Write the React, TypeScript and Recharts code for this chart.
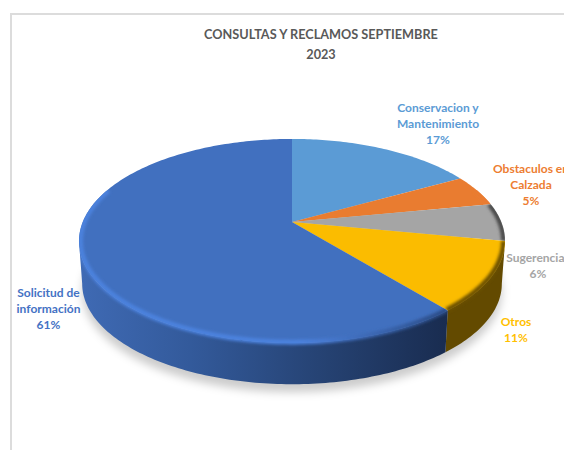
import { PieChart, Pie } from 'recharts';

const categories = ['Conservacion y Mantenimiento', 'Obstaculos en Calzada', 'Sugerencias', 'Otros', 'Solicitud de información'];
const shares = [17, 5, 6, 11, 61];
const topColors = ['#5B9BD5', '#E97C30', '#A5A5A5', '#FBBC00', '#4170BF'];
const labelColors = ['#5B9BD5', '#ED7D31', '#A5A5A5', '#FFC000', '#4472C4'];
const wallColors = ['#35607f', '#8a4a1c', '#5e5e5e', '#634A00', 'url(#wallBlue)'];
const rimColors = ['#5B9BD5', '#E97C30', '#4a4a4a', '#6b5000', 'url(#rimBlue)'];
const labelLines = [['Conservacion y', 'Mantenimiento'], ['Obstaculos en', 'Calzada'], ['Sugerencias'], ['Otros'], ['Solicitud de', 'información']];
const titleLines = ['CONSULTAS Y RECLAMOS SEPTIEMBRE', '2023'];

const table = categories.map((name, idx) => ({ name, idx, value: shares[idx], fill: topColors[idx] }));
const shadowTable = [{ name: 'sombra', value: 1 }];

// chart geometry, the disc is tilted so the near edge is drawn larger
const WIDTH = 564;
const HEIGHT = 450;
const CX = 292;
const CY = 222;
const RADIUS = 209.3;
const SQUASH = 98.5;
const TILT = 0.186;
const DEPTH = 43;
const BOTTOM_SCALE = 0.985;
const FONT = 'Lato, "Open Sans", sans-serif';

const labelAnchors = [
  { x: 438, y: 112 },
  { x: 531, y: 173 },
  { x: 538, y: 262 },
  { x: 516, y: 326 },
  { x: 48.5, y: 297 },
];

// tangent points of the disc, the wall only shows between them
const WALL_FROM = -10.7;
const WALL_TO = -169.3;
const RIM_FROM = 20;
const RIM_TO = -200;

function project(angle: number, scale = 1, shift = 0) {
  const rad = (angle * Math.PI) / 180;
  const u = Math.cos(rad);
  const v = -Math.sin(rad);
  const w = 1 / (1 - TILT * v);
  return [CX + RADIUS * u * w * scale, CY + SQUASH * v * w * scale + shift];
}

function arcPoints(from: number, to: number, scale = 1, shift = 0) {
  const steps = Math.max(2, Math.ceil(Math.abs(to - from)));
  const pts = [];
  for (let i = 0; i <= steps; i++) {
    pts.push(project(from + ((to - from) * i) / steps, scale, shift));
  }
  return pts;
}

function toPath(pts: number[][]) {
  return pts.map((p, i) => `${i === 0 ? 'M' : 'L'}${p[0].toFixed(2)},${p[1].toFixed(2)}`).join(' ');
}

function wallPath(start: number, end: number) {
  const from = Math.min(start, WALL_FROM);
  const to = Math.max(end, WALL_TO);
  if (from <= to) return '';
  return toPath([...arcPoints(from, to), ...arcPoints(to, from, BOTTOM_SCALE, DEPTH)]) + ' Z';
}

function sectorPath(start: number, end: number) {
  return `M${CX},${CY} ` + toPath(arcPoints(start, end)).replace('M', 'L') + ' Z';
}

function ShadowShape() {
  return (
    <path
      d={toPath(arcPoints(90, -270, BOTTOM_SCALE, DEPTH + 8)) + ' Z'}
      fill="#000000"
      fillOpacity={0.2}
      filter="url(#softShadow)"
    />
  );
}

function WallShape(props: any) {
  const d = wallPath(props.startAngle, props.endAngle);
  if (!d) return <g />;
  return <path d={d} fill={wallColors[props.idx]} />;
}

function TopShape(props: any) {
  const { startAngle, endAngle, idx, fill } = props;
  const from = Math.min(startAngle, RIM_FROM);
  const to = Math.max(endAngle, RIM_TO);
  const clipId = `rimClip${idx}`;
  return (
    <g>
      <path d={sectorPath(startAngle, endAngle)} fill={fill} />
      {from > to && (
        <>
          <clipPath id={clipId}>
            <path d={sectorPath(startAngle, endAngle)} />
            <path d={wallPath(startAngle, endAngle) || 'M0,0'} />
          </clipPath>
          <g clipPath={`url(#${clipId})`}>
            <path
              d={toPath(arcPoints(from, to, 0.993))}
              fill="none"
              stroke={rimColors[idx]}
              strokeWidth={5}
              filter="url(#softRim)"
            />
          </g>
        </>
      )}
    </g>
  );
}

function renderLabel(props: any) {
  const idx = props.idx ?? props.payload?.idx;
  const anchor = labelAnchors[idx];
  const lines = [...labelLines[idx], `${shares[idx]}%`];
  return (
    <text
      key={idx}
      x={anchor.x}
      y={anchor.y}
      textAnchor="middle"
      fontFamily={FONT}
      fontWeight={700}
      fontSize={12}
      fill={labelColors[idx]}
    >
      {lines.map((line, i) => (
        <tspan key={line} x={anchor.x} dy={i === 0 ? 0 : 16}>
          {line}
        </tspan>
      ))}
    </text>
  );
}

export default function App() {
  return (
    <div style={{ position: 'absolute', left: 0, top: 0, width: WIDTH, height: HEIGHT, overflow: 'hidden', background: '#fff' }}>
      <div style={{ position: 'absolute', left: 10, top: 13, width: 700, height: 600, border: '2px solid #dcdcdc' }} />
      <div style={{ position: 'absolute', left: 0, top: 0 }}>
        <PieChart width={WIDTH} height={HEIGHT} margin={{ top: 0, right: 0, bottom: 0, left: 0 }}>
          <defs>
            <linearGradient id="wallBlue" gradientUnits="userSpaceOnUse" x1={80} y1={0} x2={447} y2={0}>
              <stop offset="0" stopColor="#3F6AB4" />
              <stop offset="0.3" stopColor="#335A9B" />
              <stop offset="0.65" stopColor="#264374" />
              <stop offset="1" stopColor="#192C50" />
            </linearGradient>
            <linearGradient id="rimBlue" gradientUnits="userSpaceOnUse" x1={80} y1={0} x2={447} y2={0}>
              <stop offset="0" stopColor="#4C82DE" />
              <stop offset="0.6" stopColor="#4C82DE" />
              <stop offset="1" stopColor="#2A4B85" />
            </linearGradient>
            <filter id="softShadow" filterUnits="userSpaceOnUse" x={0} y={0} width={WIDTH} height={HEIGHT}>
              <feGaussianBlur stdDeviation={4} />
            </filter>
            <filter id="softRim" filterUnits="userSpaceOnUse" x={0} y={0} width={WIDTH} height={HEIGHT}>
              <feGaussianBlur stdDeviation={1.8} />
            </filter>
          </defs>
          {titleLines.map((line, i) => (
            <text
              key={line}
              x={321}
              y={39 + i * 20}
              textAnchor="middle"
              fontFamily={FONT}
              fontWeight={700}
              fontSize={12.7}
              fill="#595959"
            >
              {line}
            </text>
          ))}
          <Pie
            data={shadowTable}
            dataKey="value"
            cx={CX}
            cy={CY}
            outerRadius={RADIUS}
            startAngle={90}
            endAngle={-270}
            stroke="none"
            shape={ShadowShape}
            isAnimationActive={false}
          />
          <Pie
            data={table}
            dataKey="value"
            cx={CX}
            cy={CY}
            outerRadius={RADIUS}
            startAngle={90}
            endAngle={-270}
            stroke="none"
            shape={WallShape}
            isAnimationActive={false}
          />
          <Pie
            data={table}
            dataKey="value"
            cx={CX}
            cy={CY}
            outerRadius={RADIUS}
            startAngle={90}
            endAngle={-270}
            stroke="none"
            shape={TopShape}
            label={renderLabel}
            labelLine={false}
            isAnimationActive={false}
          />
        </PieChart>
      </div>
    </div>
  );
}
